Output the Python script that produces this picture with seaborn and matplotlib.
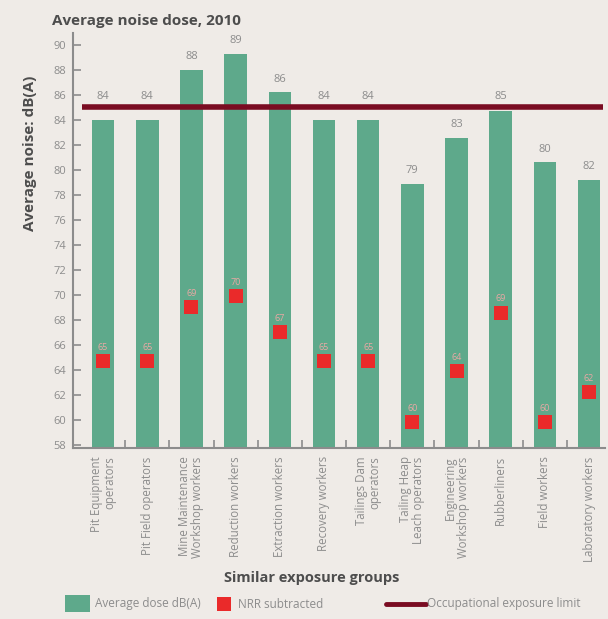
import matplotlib
matplotlib.use("Agg")
import matplotlib.pyplot as plt
import seaborn as sns
import pandas as pd
from matplotlib.patches import Rectangle
from matplotlib.lines import Line2D

# ---- data ----
groups = [
    "Pit Equipment\noperators",
    "Pit Field operators",
    "Mine Maintenance\nWorkshop workers",
    "Reduction workers",
    "Extraction workers",
    "Recovery workers",
    "Tailings Dam\noperators",
    "Tailing Heap\nLeach operators",
    "Engineering\nWorkshop workers",
    "Rubberliners",
    "Field workers",
    "Laboratory workers",
]
avg_dose = [84, 84, 88, 89.3, 86.2, 84, 84, 78.9, 82.6, 84.7, 80.6, 79.2]
dose_labels = ["84", "84", "88", "89", "86", "84", "84", "79", "83", "85", "80", "82"]
nrr = [64.7, 64.7, 69.0, 69.9, 67.0, 64.7, 64.7, 59.8, 63.9, 68.6, 59.8, 62.2]
nrr_labels = ["65", "65", "69", "70", "67", "65", "65", "60", "64", "69", "60", "62"]
limit = 85
yticks = list(range(58, 91, 2))

# ---- style ----
BG = "#efebe7"
GREEN = "#5ea98b"
RED = "#ea2a2a"
MAROON = "#7a0c22"
GRAY = "#8c8c8c"
DARK = "#4d4d4d"

sns.set_theme(style="white")
plt.rcParams["font.family"] = ["Open Sans", "DejaVu Sans"]

W, H = 608, 619
fig = plt.figure(figsize=(W / 100, H / 100), dpi=100, facecolor=BG)
ax = fig.add_axes([73 / W, 1 - 448 / H, 532 / W, (448 - 33) / H])
ax.set_facecolor(BG)

df = pd.DataFrame({"group": groups, "dose": avg_dose, "nrr": nrr})
sns.barplot(data=df, x="group", y="dose", color=GREEN, saturation=1,
            width=0.51, ax=ax, linewidth=0)

# value labels above bars; lifted above the limit line where they would touch it
for i, (v, lab) in enumerate(zip(avg_dose, dose_labels)):
    if limit - 1.5 < v < limit + 0.6:
        ax.annotate(lab, (i, limit), xytext=(0, 8), textcoords="offset points",
                    ha="center", va="center", fontsize=8, color=GRAY)
    else:
        ax.annotate(lab, (i, v), xytext=(0, 9.5), textcoords="offset points",
                    ha="center", va="center", fontsize=8, color=GRAY)

ax.hlines(limit, -0.475, 11.31, color=MAROON, lw=4, zorder=4)

sns.stripplot(data=df, x="group", y="nrr", jitter=False, marker="s",
              size=10, color=RED, linewidth=0, ax=ax, zorder=5)
for i, (v, lab) in enumerate(zip(nrr, nrr_labels)):
    ax.annotate(lab, (i, v), xytext=(0, 10), textcoords="offset points",
                ha="center", va="center", fontsize=6.5, color="#eba8a4",
                zorder=6)

ax.set_xlim(-0.68, 11.36)
ax.set_ylim(57.76, 90.96)
ax.set_yticks(yticks)
ax.set_xlabel("")
ax.set_ylabel("")

ax.tick_params(axis="y", direction="in", length=6, width=1.2, color=GRAY,
               labelsize=8, labelcolor=GRAY, pad=5, left=True)
ax.set_xticks(range(len(groups)))
ax.set_xticklabels(groups, rotation=90, ha="center", va="top",
                   multialignment="right", fontsize=8.3, color=GRAY,
                   linespacing=1.0)
ax.tick_params(axis="x", length=0, pad=6, bottom=True)
ax.set_xticks([i + 0.5 for i in range(len(groups) - 1)], minor=True)
ax.tick_params(axis="x", which="minor", direction="in", length=6,
               width=1.2, color=GRAY, bottom=True)

for s in ["top", "right"]:
    ax.spines[s].set_visible(False)
for s in ["left", "bottom"]:
    ax.spines[s].set_color(GRAY)
    ax.spines[s].set_linewidth(1.5)

# ---- texts ----
fig.text(52 / W, 1 - 21 / H, "Average noise dose, 2010", ha="left",
         va="center", fontsize=11, fontweight="bold", color=DARK)
fig.text(30 / W, 1 - 153 / H, "Average noise: dB(A)", rotation=90,
         ha="center", va="center", fontsize=11, fontweight="bold", color=DARK)
fig.text(312 / W, 1 - 578 / H, "Similar exposure groups", ha="center",
         va="center", fontsize=10.5, fontweight="bold", color=DARK)

# ---- legend (manual) ----
ly = 1 - 604 / H
fig.add_artist(Rectangle((65 / W, 1 - 612 / H), 25 / W, 17 / H,
                         transform=fig.transFigure, color=GREEN, lw=0))
fig.text(95 / W, ly, "Average dose dB(A)", ha="left", va="center",
         fontsize=8.5, color=GRAY)
fig.add_artist(Rectangle((217 / W, 1 - 611 / H), 14 / W, 14 / H,
                         transform=fig.transFigure, color=RED, lw=0))
fig.text(238 / W, ly, "NRR subtracted", ha="left", va="center",
         fontsize=8.5, color=GRAY)
fig.add_artist(Line2D([386 / W, 426 / W], [ly, ly], transform=fig.transFigure,
                      color=MAROON, lw=3.5))
fig.text(427 / W, ly, "Occupational exposure limit", ha="left", va="center",
         fontsize=8.5, color=GRAY)

fig.savefig("out.png", dpi=100, facecolor=BG)
